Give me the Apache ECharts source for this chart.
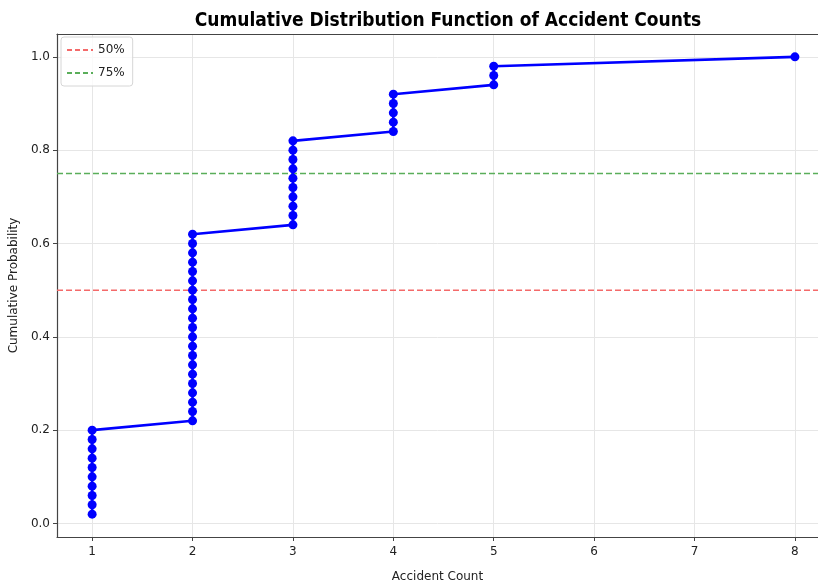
<!DOCTYPE html>
<html>
<head>
<meta charset="utf-8">
<script src="https://cdn.jsdelivr.net/npm/echarts@6/dist/echarts.min.js"></script>
<style>html,body{margin:0;padding:0;background:#fff;}#c{width:818px;height:588px;}</style>
</head>
<body>
<div id="c"></div>
<script>
// Sorted accident counts (x) and their cumulative probabilities (y)
const accidentCounts = [
  1,1,1,1,1,1,1,1,1,1,
  2,2,2,2,2,2,2,2,2,2,2,2,2,2,2,2,2,2,2,2,2,
  3,3,3,3,3,3,3,3,3,3,
  4,4,4,4,4,
  5,5,5,
  8
];
const cumulativeProb = [
  0.02,0.04,0.06,0.08,0.10,0.12,0.14,0.16,0.18,0.20,
  0.22,0.24,0.26,0.28,0.30,0.32,0.34,0.36,0.38,0.40,0.42,0.44,0.46,0.48,0.50,0.52,0.54,0.56,0.58,0.60,0.62,
  0.64,0.66,0.68,0.70,0.72,0.74,0.76,0.78,0.80,0.82,
  0.84,0.86,0.88,0.90,0.92,
  0.94,0.96,0.98,
  1.00
];
const xTicks = [1,2,3,4,5,6,7,8];
const yTicks = [0.0,0.2,0.4,0.6,0.8,1.0];
const refLevels = [0.5, 0.75];
const refNames = ['50%', '75%'];

const chart = echarts.init(document.getElementById('c'));
const points = accidentCounts.map((x,i)=>[x, cumulativeProb[i]]);
const refColors = ['#f46a6a', '#5aae5a'];
const font = 'DejaVu Sans';

chart.setOption({
  animation: false,
  title: {
    text: 'Cumulative Distribution Function of Accident Counts',
    left: 443, top: 7, textAlign: 'center',
    textStyle: {fontFamily: 'DejaVu Sans Condensed, DejaVu Sans', fontWeight: 'bold', fontSize: 19, color: '#000'}
  },
  legend: {
    left: 61, top: 37, orient: 'vertical',
    data: refNames,
    itemWidth: 26, itemHeight: 2, itemGap: 11,
    padding: [7, 8, 7, 6],
    backgroundColor: 'rgba(255,255,255,0.8)',
    borderColor: '#d6d6d6', borderWidth: 1, borderRadius: 3,
    textStyle: {fontFamily: font, fontSize: 12, color: '#222'},
    icon: 'path://M0,0 L5,0 L5,2 L0,2 Z M8,0 L13,0 L13,2 L8,2 Z M16,0 L21,0 L21,2 L16,2 Z M24,0 L26,0 L26,2 L24,2 Z'
  },
  grid: {left: 57, right: 0, top: 34, bottom: 45, containLabel: false},
  xAxis: [{
    type: 'value', min: 0.65, max: 8.23,
    name: 'Accident Count', nameLocation: 'middle', nameGap: 34,
    nameTextStyle: {fontFamily: font, fontSize: 12, color: '#222'},
    axisLine: {show: true, onZero: false, lineStyle: {color: '#444', width: 1.2}},
    axisTick: {show: true, length: 4, customValues: xTicks, lineStyle: {color: '#444'}},
    axisLabel: {customValues: xTicks, fontFamily: font, fontSize: 12, color: '#222', margin: 9,
      formatter: v => String(v)},
    splitLine: {show: true, lineStyle: {color: '#e6e6e6', width: 1}}
  }, {
    type: 'value', min: 0.65, max: 8.23, position: 'top',
    axisLine: {show: true, onZero: false, lineStyle: {color: '#444', width: 1.2}},
    axisTick: {show: false}, axisLabel: {show: false}, splitLine: {show: false}
  }],
  yAxis: {
    type: 'value', min: -0.029, max: 1.049,
    name: 'Cumulative Probability', nameLocation: 'middle', nameGap: 37, nameRotate: 90,
    nameTextStyle: {fontFamily: font, fontSize: 12, color: '#222'},
    axisLine: {show: true, onZero: false, lineStyle: {color: '#444', width: 1.2}},
    axisTick: {show: true, length: 4, customValues: yTicks, lineStyle: {color: '#444'}},
    axisLabel: {customValues: yTicks, fontFamily: font, fontSize: 12, color: '#222', margin: 7,
      formatter: v => v.toFixed(1)},
    splitLine: {show: true, lineStyle: {color: '#e6e6e6', width: 1}}
  },
  series: [
    {
      type: 'line', data: points,
      lineStyle: {color: '#0000ff', width: 2.6},
      itemStyle: {color: '#0000ff'},
      symbol: 'circle', symbolSize: 9, showSymbol: true, z: 5
    },
    ...refNames.map((n, i) => ({
      name: n, type: 'line', data: [[0.65, refLevels[i]], [8.23, refLevels[i]]],
      showSymbol: false, symbol: 'none',
      lineStyle: {color: refColors[i], width: 1.5, type: [6, 3]},
      itemStyle: {color: refColors[i]}, z: 3
    }))
  ]
});
</script>
</body>
</html>
